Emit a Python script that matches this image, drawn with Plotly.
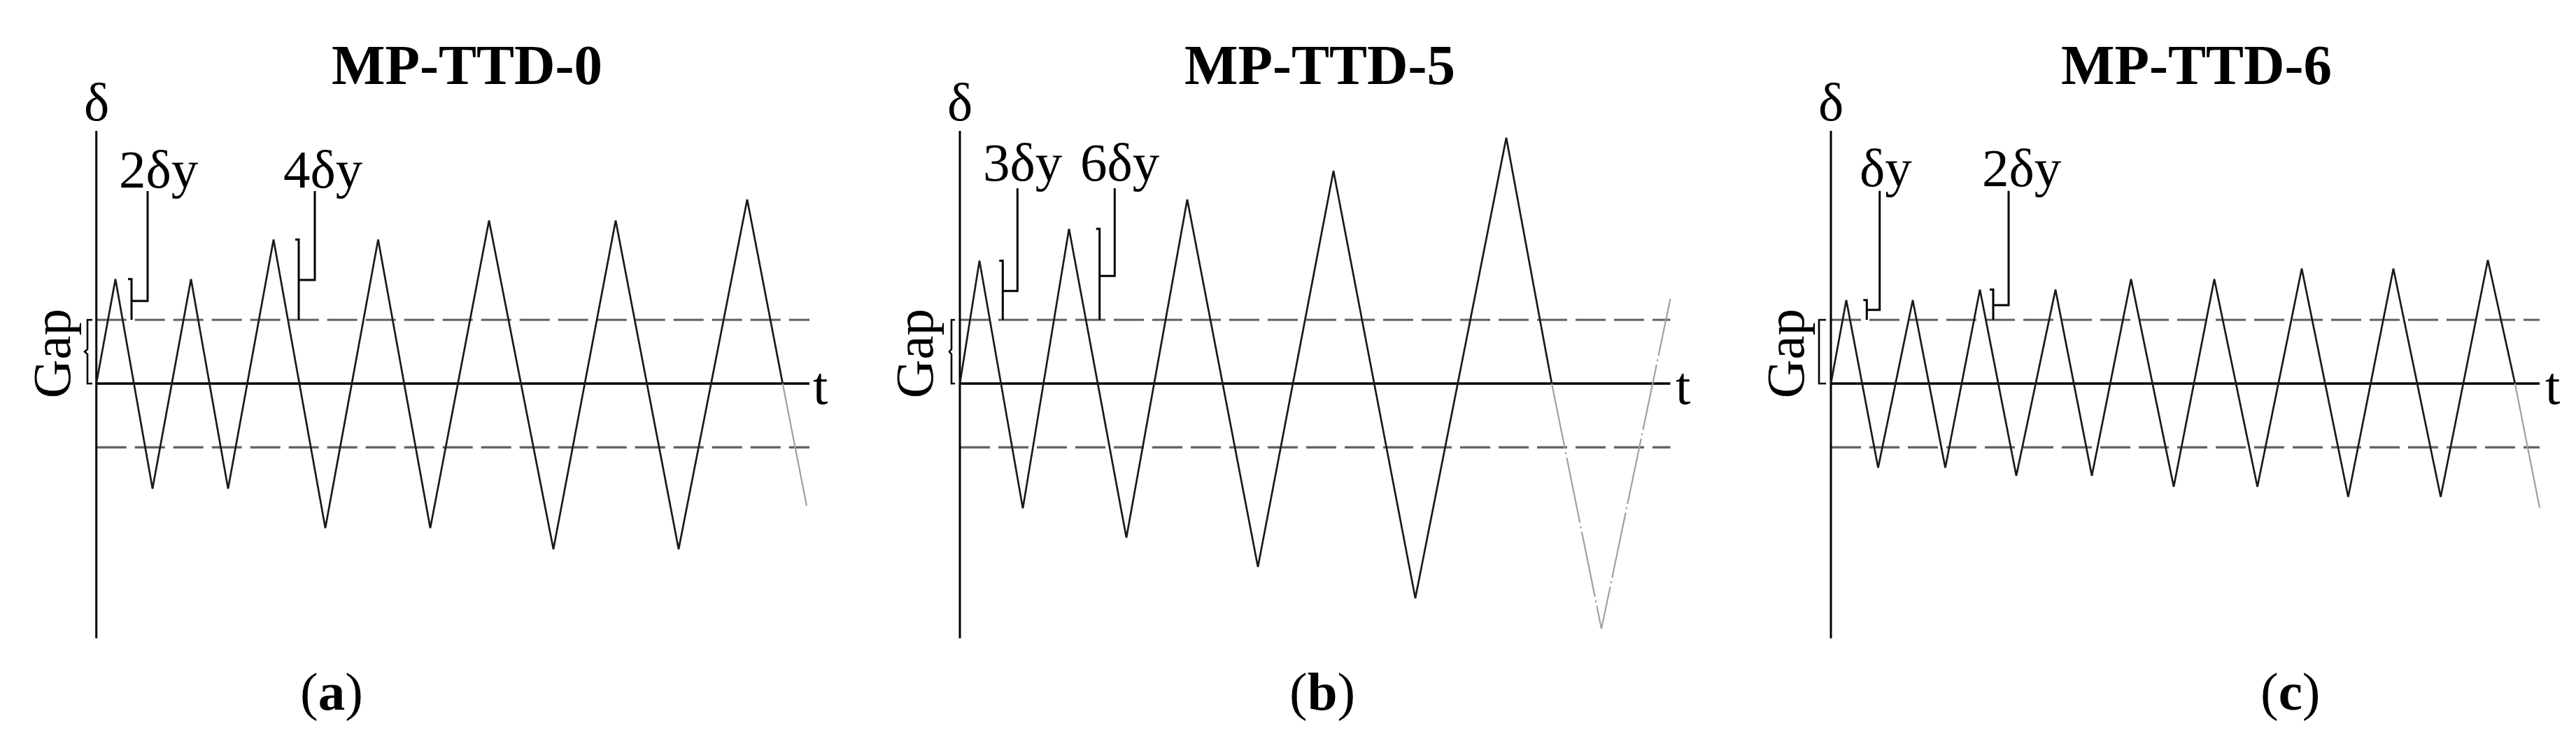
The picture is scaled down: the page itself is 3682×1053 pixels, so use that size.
import plotly.graph_objects as go

W, H = 3682, 1053
FONT = "Liberation Serif, Times New Roman, serif"

# ---------------- data (t: time units, delta: units of the gap) ----------------
titles = ["MP-TTD-0", "MP-TTD-5", "MP-TTD-6"]
panel_letters = ["a", "b", "c"]

# loading histories (black part)
a_t = [0, 0.273, 0.803, 1.353, 1.883, 2.533, 3.273, 4.028, 4.773, 5.613, 6.533, 7.423, 8.323, 9.303, 9.81]
a_d = [0, 1.64, -1.65, 1.64, -1.65, 2.26, -2.27, 2.26, -2.27, 2.56, -2.60, 2.56, -2.60, 2.89, 0]
b_t = [0, 0.28, 0.90, 1.56, 2.38, 3.25, 4.26, 5.34, 6.51, 7.81, 8.46]
b_d = [0, 1.93, -1.96, 2.43, -2.42, 2.89, -2.88, 3.34, -3.37, 3.86, 0]
c_t = [0, 0.22, 0.675, 1.17, 1.635, 2.13, 2.65, 3.21, 3.73, 4.29, 4.90, 5.48, 6.096,
       6.73, 7.394, 8.04, 8.716, 9.39, 9.778]
c_d = [0, 1.31, -1.32, 1.31, -1.32, 1.476, -1.447, 1.476, -1.447, 1.64, -1.62, 1.64, -1.62,
       1.805, -1.78, 1.805, -1.78, 1.94, 0]

# grey continuation
a_tail_t = [9.81, 10.153]
a_tail_d = [0, -1.92]
b_tail_t = [8.46, 9.17, 10.155]
b_tail_d = [0, -3.85, 1.33]
c_tail_t = [9.778, 10.13]
c_tail_d = [0, -1.95]

gap_level = 1.0
t_axis_end = [10.193, 10.155, 10.13]
delta_axis = [-4.0, 3.967]

# amplitude brackets: (t of bracket, peak delta, joint delta, leader t, label)
a_brackets = [(0.503, 1.64, 1.297, 0.733, "2δy"), (2.893, 2.26, 1.626, 3.123, "4δy")]
b_brackets = [(0.613, 1.93, 1.454, 0.823, "3δy"), (1.997, 2.43, 1.689, 2.213, "6δy")]
c_brackets = [(0.513, 1.31, 1.157, 0.697, "δy"), (2.32, 1.476, 1.231, 2.54, "2δy")]
leader_top = [3.022, 3.066, 3.025]
label_x = [[0.893, 3.243], [0.90, 2.29], [0.78, 2.73]]
label_y = [3.363, 3.47, 3.38]

# gap brace: (t of brace, t of tick end, t of kink or None)
gap_brace = [(-0.127, -0.057, -0.167), (-0.12, -0.07, -0.15), (-0.17, -0.07, None)]
gap_text_x = [-0.637, -0.65, -0.65]
gap_text_y = 0.47

title_x = [5.293, 5.14, 5.22]
title_y = 4.995
letter_x = [3.363, 5.18, 6.57]
letter_y = -4.835
t_label_x = [10.343, 10.33, 10.31]
t_label_y = -0.033
delta_label_y = 4.42

x_ranges = [[-1.377, 10.893], [-1.45, 10.82], [-1.63, 10.65]]
x_domains = [[0, 1227 / W], [1227 / W, 2454 / W], [2454 / W, 1]]
y_range = [-5.549, 6.022]

series = [(a_t, a_d, a_tail_t, a_tail_d, a_brackets),
          (b_t, b_d, b_tail_t, b_tail_d, b_brackets),
          (c_t, c_d, c_tail_t, c_tail_d, c_brackets)]

fig = go.Figure()
annotations = []


def add_line(xs, ys, xa, color="black", width=3, dash="solid"):
    fig.add_trace(go.Scatter(x=xs, y=ys, mode="lines", xaxis=xa, yaxis="y",
                             line=dict(color=color, width=width, dash=dash),
                             hoverinfo="skip", showlegend=False))


for i, (wt, wd, tt, td, brs) in enumerate(series):
    xa = "x" if i == 0 else f"x{i + 1}"
    xr = xa
    # gap dashed lines
    for lvl in (gap_level, -gap_level):
        add_line([0, t_axis_end[i]], [lvl, lvl], xa, color="#5f5f5f", width=3.2, dash="43px,12px")
    # axes
    add_line([0, 0], delta_axis, xa, width=3)
    add_line([0, t_axis_end[i]], [0, 0], xa, width=3.6)
    # loading history
    add_line(wt, wd, xa, color="#1a1a1a", width=2.7)
    if i == 1:
        add_line(tt, td, xa, color="#a0a0a0", width=2.2, dash="95px,5px,3px,5px")
    else:
        add_line(tt, td, xa, color="#a0a0a0", width=2.2)
    # gap brace
    bx, tick, kink = gap_brace[i]
    if kink is None:
        add_line([tick, bx, bx, tick], [gap_level, gap_level, 0, 0], xa, width=2.6)
    else:
        add_line([tick, bx, bx, kink, bx, bx, tick],
                 [gap_level, gap_level, 0.54, 0.5, 0.46, 0, 0], xa, width=2.6)
    # amplitude brackets with leaders
    for k, (bt, pk, jt, lt, lab) in enumerate(brs):
        add_line([bt - 0.05, bt, bt], [pk, pk, gap_level], xa, width=3)
        add_line([bt, lt, lt], [jt, jt, leader_top[i]], xa, width=3)
        annotations.append(dict(x=label_x[i][k], y=label_y[i], xref=xr, yref="y", text=lab,
                                showarrow=False, xanchor="center", yanchor="middle",
                                font=dict(family=FONT, size=77, color="black")))
    # texts
    annotations.append(dict(x=title_x[i], y=title_y, xref=xr, yref="y",
                            text=f"<b>{titles[i]}</b>", showarrow=False,
                            xanchor="center", yanchor="middle",
                            font=dict(family=FONT, size=81, color="black")))
    annotations.append(dict(x=0, y=delta_label_y, xref=xr, yref="y", text="δ",
                            showarrow=False, xanchor="center", yanchor="middle",
                            font=dict(family=FONT, size=77, color="black")))
    annotations.append(dict(x=t_label_x[i], y=t_label_y, xref=xr, yref="y", text="t",
                            showarrow=False, xanchor="center", yanchor="middle",
                            font=dict(family=FONT, size=77, color="black")))
    annotations.append(dict(x=gap_text_x[i], y=gap_text_y, xref=xr, yref="y", text="Gap",
                            textangle=-90, showarrow=False, xanchor="center", yanchor="middle",
                            font=dict(family=FONT, size=77, color="black")))
    annotations.append(dict(x=letter_x[i], y=letter_y, xref=xr, yref="y",
                            text=f"(<b>{panel_letters[i]}</b>)", showarrow=False,
                            xanchor="center", yanchor="middle",
                            font=dict(family=FONT, size=77, color="black")))

axis_common = dict(visible=False, showgrid=False, zeroline=False, fixedrange=True)
layout = dict(width=W, height=H, margin=dict(l=0, r=0, t=0, b=0),
              paper_bgcolor="white", plot_bgcolor="white",
              annotations=annotations, showlegend=False,
              yaxis=dict(domain=[0, 1], range=y_range, **axis_common))
for i in range(3):
    key = "xaxis" if i == 0 else f"xaxis{i + 1}"
    layout[key] = dict(domain=x_domains[i], range=x_ranges[i], anchor="y", **axis_common)
fig.update_layout(**layout)

fig.write_html("out.html", config={"displayModeBar": False},
               post_script="document.body.style.margin='0';document.body.style.padding='0';"
                           "document.body.style.overflow='hidden';")
